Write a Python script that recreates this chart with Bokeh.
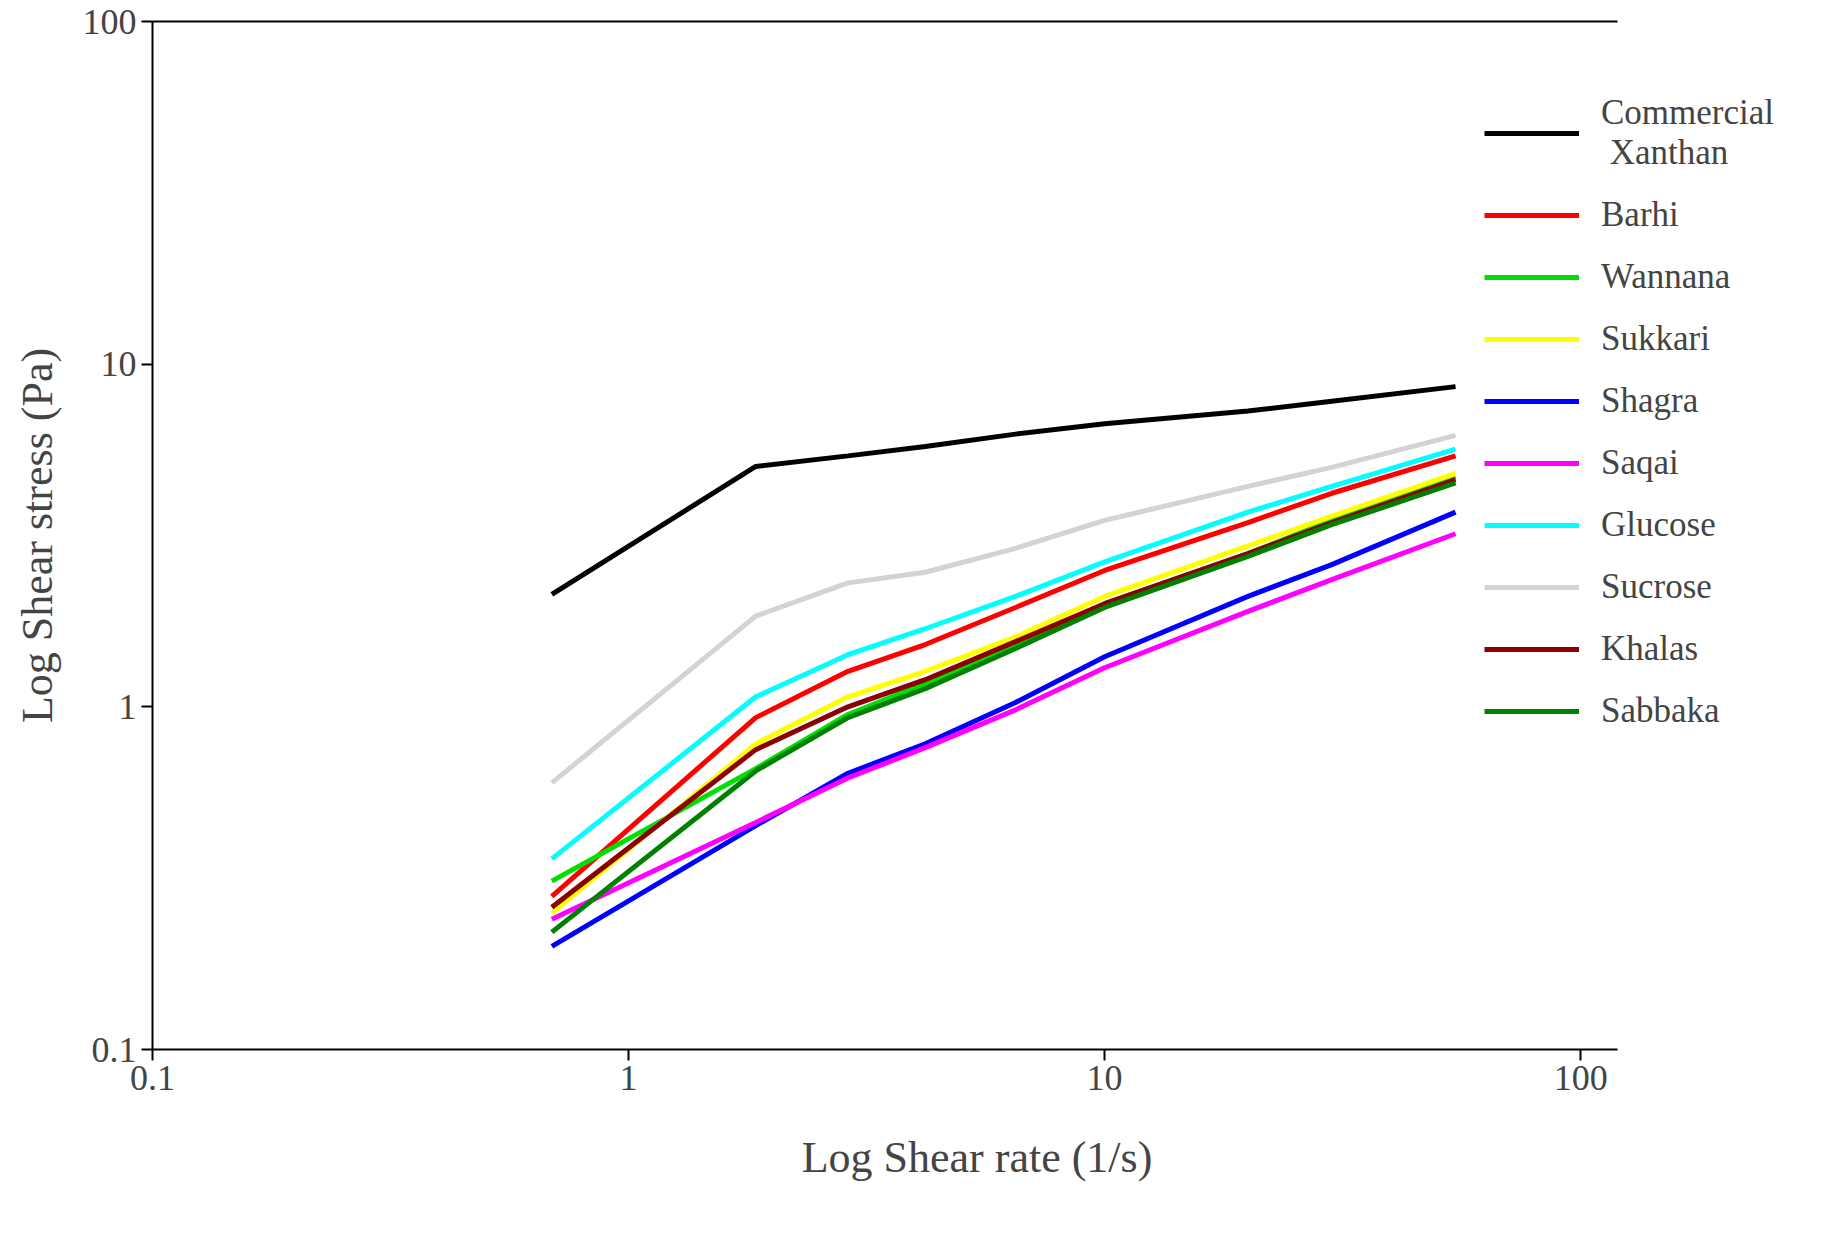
from bokeh.plotting import figure
from bokeh.models import FixedTicker, LogAxis, Legend, LegendItem, Range1d
from bokeh.embed import file_html
from bokeh.resources import INLINE

shear_rate = [0.69, 1.85, 2.89, 4.2, 6.5, 10, 20, 30, 54.6]
series_names = ["Commercial\n Xanthan", "Barhi", "Wannana", "Sukkari", "Shagra", "Saqai",
                "Glucose", "Sucrose", "Khalas", "Sabbaka"]
commercial = [2.13, 5.03, 5.4, 5.75, 6.25, 6.7, 7.3, 7.8, 8.6]
barhi = [0.28, 0.93, 1.27, 1.52, 1.95, 2.5, 3.45, 4.2, 5.4]
wannana = [0.31, 0.66, 0.95, 1.17, 1.52, 2.0, 2.8, 3.5, 4.7]
sukkari = [0.25, 0.78, 1.07, 1.27, 1.6, 2.1, 2.95, 3.6, 4.8]
shagra = [0.2, 0.45, 0.64, 0.78, 1.03, 1.4, 2.1, 2.6, 3.7]
saqai = [0.24, 0.46, 0.62, 0.76, 0.98, 1.3, 1.9, 2.35, 3.2]
glucose = [0.36, 1.07, 1.42, 1.69, 2.1, 2.65, 3.7, 4.4, 5.65]
sucrose = [0.60, 1.84, 2.3, 2.47, 2.9, 3.5, 4.4, 5.0, 6.2]
khalas = [0.26, 0.75, 1.0, 1.2, 1.55, 2.0, 2.8, 3.45, 4.6]
sabbaka = [0.22, 0.65, 0.93, 1.13, 1.48, 1.95, 2.75, 3.4, 4.5]
colors = ["#000000", "#ff0000", "#00e000", "#ffff00", "#0000ff", "#ff00ff",
          "#00ffff", "#d3d3d3", "#8b0000", "#008000"]
values = [commercial, barhi, wannana, sukkari, shagra, saqai, glucose, sucrose, khalas, sabbaka]
ticks = [0.1, 1, 10, 100]
tick_labels = {0.1: "0.1", 1: "1", 10: "10", 100: "100"}
x_bounds = (0.1, 119.7)

FONT = "Liberation Serif"
p = figure(width=1805, height=1224, x_axis_type="log", y_axis_type="log",
           x_range=Range1d(0.1, 291), y_range=Range1d(0.1, 100),
           output_backend="svg", toolbar_location=None,
           min_border_left=152, min_border_right=4, min_border_top=21, min_border_bottom=175)
p.outline_line_color = None
p.grid.visible = False

for ax in (p.xaxis[0], p.yaxis[0]):
    ax.ticker = FixedTicker(ticks=ticks)
    ax.major_label_overrides = tick_labels
    ax.minor_tick_line_color = None
    ax.major_tick_in = 0
    ax.major_tick_out = 11
    ax.axis_line_width = 2
    ax.major_tick_line_width = 2
    ax.major_label_text_font = FONT
    ax.major_label_text_font_size = "36px"
    ax.axis_label_text_font = FONT
    ax.axis_label_text_font_size = "44px"
    ax.axis_label_text_font_style = "normal"
p.xaxis.bounds = x_bounds
p.xaxis.axis_label = "Log Shear rate (1/s)"
p.yaxis.axis_label = "Log Shear stress (Pa)"
p.xaxis.axis_label_standoff = 40
p.yaxis.axis_label_standoff = 18

top = LogAxis(ticker=FixedTicker(ticks=[]), major_label_text_font_size="0px",
              minor_tick_line_color=None, axis_line_width=2, bounds=x_bounds)
p.add_layout(top, "above")

items = []
for name, vals, c in zip(series_names, values, colors):
    r = p.line(shear_rate, vals, line_color=c, line_width=5)
    items.append(LegendItem(label=name, renderers=[r]))

leg = Legend(items=items, location=(1332, 318), glyph_width=95, glyph_height=30,
             label_text_font=FONT, label_text_font_size="35px",
             background_fill_alpha=0, border_line_color=None, spacing=22,
             label_standoff=22, padding=0, margin=0)
p.add_layout(leg)

open("out.html", "w").write(file_html(p, INLINE))
